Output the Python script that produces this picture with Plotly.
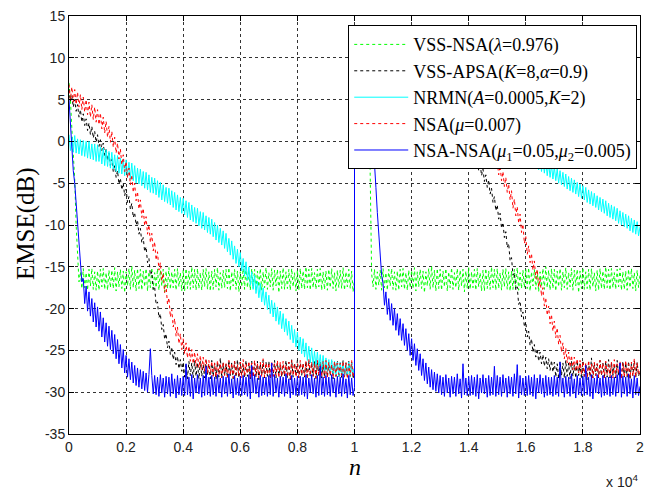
import plotly.graph_objects as go

# sample index axis: first half (0..10000) and second half (10000..20000), step 50
n_first = list(range(0, 10001, 50))
n_second = list(range(10000, 20001, 50))

x_tick_vals = [0, 2000, 4000, 6000, 8000, 10000, 12000, 14000, 16000, 18000, 20000]
x_tick_text = ["0", "0.2", "0.4", "0.6", "0.8", "1", "1.2", "1.4", "1.6", "1.8", "2"]
y_tick_vals = [15, 10, 5, 0, -5, -10, -15, -20, -25, -30, -35]
y_tick_text = ["15", "10", "5", "0", "-5", "-10", "-15", "-20", "-25", "-30", "-35"]

# ---------------- VSS-NSA (green) ----------------
green_a = [
    7.0, 5.0, 1.5, -1.5, -4.5, -10.0, -14.5, -16.8, -15.6, -17.6,
    -15.2, -17.5, -15.7, -17.8, -15.3, -17.3, -15.2, -17.7, -15.6, -17.8,
    -15.5, -17.8, -15.3, -17.4, -15.2, -17.7, -15.7, -17.8, -15.4, -17.5,
    -15.4, -17.6, -15.1, -17.9, -15.6, -17.4, -15.3, -17.6, -15.5, -18.1,
    -15.6, -17.3, -15.2, -17.7, -14.9, -17.5, -15.4, -17.9, -15.2, -17.6,
    -15.3, -17.8, -15.5, -17.4, -15.2, -17.9, -15.6, -17.5, -15.1, -17.7,
    -15.7, -17.5, -15.2, -17.8, -15.4, -17.3, -15.3, -18.0, -15.5, -17.6,
    -15.1, -17.7, -15.6, -17.5, -15.3, -17.8, -15.2, -17.4, -15.7, -17.9,
    -15.4, -17.9, -15.2, -17.6, -15.5, -17.7, -15.0, -17.5, -15.3, -17.8,
    -15.2, -17.6, -15.7, -17.8, -15.3, -17.4, -15.2, -17.7, -15.6, -17.9,
    -15.5, -17.7, -15.3, -17.4, -15.1, -17.8, -15.7, -17.6, -15.4, -17.5,
    -15.3, -17.6, -15.1, -17.9, -15.6, -17.3, -15.3, -17.7, -15.5, -18.0,
    -15.6, -17.4, -15.2, -17.7, -15.0, -17.5, -15.4, -17.8, -15.2, -17.6,
    -15.3, -17.9, -15.5, -17.4, -15.2, -17.8, -15.6, -17.5, -15.1, -17.7,
    -15.7, -17.4, -15.2, -17.8, -15.4, -17.3, -15.3, -18.1, -15.5, -17.6,
    -15.1, -17.7, -15.6, -17.6, -15.3, -17.8, -15.2, -17.4, -15.7, -17.9,
    -15.4, -17.8, -15.2, -17.6, -15.5, -17.7, -15.0, -17.5, -15.3, -17.8,
    -15.2, -17.5, -15.7, -17.7, -15.3, -17.4, -15.2, -17.8, -15.6, -17.7,
    -15.5, -17.8, -15.3, -17.5, -15.2, -17.6, -15.7, -17.9, -15.4, -17.5,
    -15.4, -17.6, -15.1, -17.8, -15.6, -17.4, -15.3, -17.6, -15.5, -18.0,
    -16.4]
green_b = [
    9.0, 8.8, 8.5, 8.2, 8.0, 7.8, 7.5, 7.2, 7.0, 6.5,
    6.0, -4.0, -15.8, -17.4, -15.3, -17.7, -15.6, -17.2, -15.4, -17.8,
    -15.2, -17.5, -15.7, -17.8, -15.3, -17.3, -15.2, -17.7, -15.6, -17.8,
    -15.5, -17.8, -15.3, -17.4, -15.2, -17.7, -15.7, -17.8, -15.4, -17.5,
    -15.4, -17.6, -15.1, -17.9, -15.6, -17.4, -15.3, -17.6, -15.5, -18.1,
    -15.6, -17.3, -15.2, -17.7, -14.9, -17.5, -15.4, -17.9, -15.2, -17.6,
    -15.3, -17.8, -15.5, -17.4, -15.2, -17.9, -15.6, -17.5, -15.1, -17.7,
    -15.7, -17.5, -15.2, -17.8, -15.4, -17.3, -15.3, -18.0, -15.5, -17.6,
    -15.1, -17.7, -15.6, -17.5, -15.3, -17.8, -15.2, -17.4, -15.7, -17.9,
    -15.4, -17.9, -15.2, -17.6, -15.5, -17.7, -15.0, -17.5, -15.3, -17.8,
    -15.2, -17.6, -15.7, -17.8, -15.3, -17.4, -15.2, -17.7, -15.6, -17.9,
    -15.5, -17.7, -15.3, -17.4, -15.1, -17.8, -15.7, -17.6, -15.4, -17.5,
    -15.3, -17.6, -15.1, -17.9, -15.6, -17.3, -15.3, -17.7, -15.5, -18.0,
    -15.6, -17.4, -15.2, -17.7, -15.0, -17.5, -15.4, -17.8, -15.2, -17.6,
    -15.3, -17.9, -15.5, -17.4, -15.2, -17.8, -15.6, -17.5, -15.1, -17.7,
    -15.7, -17.4, -15.2, -17.8, -15.4, -17.3, -15.3, -18.1, -15.5, -17.6,
    -15.1, -17.7, -15.6, -17.6, -15.3, -17.8, -15.2, -17.4, -15.7, -17.9,
    -15.4, -17.8, -15.2, -17.6, -15.5, -17.7, -15.0, -17.5, -15.3, -17.8,
    -15.2, -17.5, -15.7, -17.7, -15.3, -17.4, -15.2, -17.8, -15.6, -17.7,
    -15.5, -17.8, -15.3, -17.5, -15.2, -17.6, -15.7, -17.9, -15.4, -17.5,
    -16.0]

# ---------------- VSS-APSA (black) ----------------
black_a = [
    6.2, 4.8, 5.5, 4.1, 5.0, 3.6, 4.4, 2.9, 3.8, 2.3,
    3.3, 1.9, 2.7, 1.3, 2.2, 0.8, 1.8, 0.4, 1.2, -0.1,
    0.8, -0.6, 0.2, -1.1, -0.2, -1.7, -0.8, -2.3, -1.4, -2.9,
    -2.1, -3.6, -2.9, -4.3, -3.5, -5.1, -4.4, -5.8, -5.0, -6.5,
    -5.7, -7.3, -6.6, -8.1, -7.4, -9.1, -8.5, -10.0, -9.4, -11.1,
    -10.4, -12.1, -11.5, -13.2, -12.6, -14.5, -14.0, -16.0, -15.6, -17.7,
    -17.4, -19.5, -19.2, -21.1, -20.6, -22.5, -21.9, -23.7, -23.0, -24.7,
    -23.9, -25.5, -24.6, -26.1, -25.2, -26.7, -25.7, -27.2, -26.1, -27.5,
    -26.4, -28.2, -26.6, -28.4, -26.3, -28.0, -26.5, -28.3, -26.2, -28.1,
    -26.5, -28.4, -26.3, -28.1, -26.7, -28.3, -26.2, -28.0, -26.6, -28.4,
    -26.2, -28.1, -26.5, -28.5, -26.4, -28.2, -25.9, -28.3, -26.5, -28.0,
    -26.6, -28.3, -26.2, -28.0, -26.5, -28.4, -26.3, -28.2, -26.1, -28.3,
    -26.4, -28.0, -26.7, -28.3, -26.2, -28.1, -26.5, -28.4, -26.3, -28.2,
    -26.5, -28.2, -26.3, -28.5, -26.6, -28.0, -26.2, -28.3, -26.4, -28.1,
    -26.3, -28.4, -26.6, -28.1, -26.2, -28.3, -26.5, -28.0, -26.7, -28.2,
    -26.6, -28.1, -26.2, -28.3, -26.4, -28.5, -26.1, -28.2, -26.5, -28.0,
    -26.2, -28.3, -26.5, -28.0, -26.6, -28.2, -26.3, -28.4, -26.2, -28.1,
    -26.5, -28.1, -26.3, -28.4, -26.5, -28.0, -26.4, -28.3, -26.6, -28.2,
    -26.4, -28.2, -26.6, -28.0, -26.3, -28.4, -26.5, -28.1, -26.2, -28.3,
    -26.6, -28.3, -26.2, -28.1, -26.5, -28.2, -26.3, -28.0, -26.4, -28.4,
    -27.2]
black_b = [
    11.0, 10.6, 10.9, 10.3, 10.6, 10.0, 10.3, 9.7, 10.0, 9.4,
    9.7, 9.1, 9.4, 8.8, 9.1, 8.5, 8.8, 8.2, 8.5, 7.9,
    8.2, 7.6, 7.9, 7.3, 7.6, 7.0, 7.3, 6.7, 7.0, 6.4,
    6.7, 6.1, 6.4, 5.8, 6.1, 5.5, 5.8, 5.2, 5.5, 4.9,
    5.2, 4.6, 4.9, 4.3, 4.6, 4.0, 4.3, 3.7, 4.0, 3.4,
    3.7, 3.1, 3.4, 2.8, 3.1, 2.5, 2.8, 2.2, 2.5, 1.9,
    2.2, 1.6, 1.9, 1.3, 1.6, 1.0, 1.3, 0.7, 1.0, 0.4,
    0.7, 0.1, 0.4, -0.2, 0.1, -0.5, -0.2, -0.8, -0.5, -1.1,
    -0.2, -1.7, -0.8, -2.3, -1.4, -2.9, -2.0, -3.5, -2.6, -4.1,
    -3.3, -4.8, -4.0, -5.5, -4.6, -6.3, -5.6, -7.3, -6.6, -8.3,
    -7.6, -9.3, -8.6, -10.4, -9.7, -11.5, -10.8, -12.7, -12.2, -14.3,
    -13.9, -16.0, -15.7, -17.8, -17.4, -19.5, -19.1, -21.0, -20.4, -22.2,
    -21.6, -23.4, -22.7, -24.4, -23.6, -25.2, -24.3, -25.8, -24.8, -26.3,
    -25.2, -26.6, -25.5, -26.9, -25.8, -27.2, -26.0, -27.4, -26.2, -27.6,
    -26.4, -28.2, -26.6, -28.4, -26.3, -28.0, -26.5, -28.3, -26.2, -28.1,
    -26.5, -28.4, -26.3, -28.1, -26.7, -28.3, -26.2, -28.0, -26.6, -28.4,
    -26.2, -28.1, -26.5, -28.5, -26.4, -28.2, -25.9, -28.3, -26.5, -28.0,
    -26.6, -28.3, -26.2, -28.0, -26.5, -28.4, -26.3, -28.2, -26.1, -28.3,
    -26.4, -28.0, -26.7, -28.3, -26.2, -28.1, -26.5, -28.4, -26.3, -28.2,
    -26.5, -28.2, -26.3, -28.5, -26.6, -28.0, -26.2, -28.3, -26.4, -28.1,
    -27.4]

# ---------------- NRMN (cyan) ----------------
cyan_a = [
    0.8, -1.1, 0.5, -1.3, 0.7, -1.4, 0.3, -1.5, 0.2, -1.7,
    0.1, -1.8, 0.0, -2.0, 0.0, -2.1, -0.3, -2.2, -0.3, -2.4,
    -0.4, -2.4, -0.7, -2.7, -0.8, -2.9, -1.0, -3.0, -1.2, -3.2,
    -1.3, -3.3, -1.6, -3.6, -1.7, -3.8, -2.0, -3.9, -2.1, -4.1,
    -2.2, -4.2, -2.5, -4.5, -2.6, -4.7, -2.9, -5.0, -3.2, -5.1,
    -3.3, -5.3, -3.6, -5.6, -3.7, -5.8, -4.0, -6.1, -4.3, -6.2,
    -4.4, -6.4, -4.7, -6.7, -4.9, -7.0, -5.2, -7.2, -5.5, -7.4,
    -5.6, -7.6, -5.9, -7.9, -6.1, -8.2, -6.4, -8.4, -6.7, -8.6,
    -6.8, -8.8, -7.1, -9.1, -7.3, -9.4, -7.6, -9.6, -7.9, -9.8,
    -8.0, -10.1, -8.4, -10.4, -8.5, -10.6, -8.9, -10.9, -9.1, -11.1,
    -9.3, -11.4, -9.7, -11.8, -10.0, -12.1, -10.4, -12.4, -10.7, -12.8,
    -11.0, -13.2, -11.6, -13.6, -11.9, -14.1, -12.5, -14.6, -12.9, -15.0,
    -13.3, -15.5, -14.0, -16.1, -14.4, -16.6, -15.0, -17.2, -15.6, -17.7,
    -16.0, -18.2, -16.7, -18.7, -17.0, -19.2, -17.5, -19.6, -18.0, -20.1,
    -18.4, -20.6, -19.0, -21.0, -19.3, -21.5, -19.8, -21.9, -20.3, -22.4,
    -20.6, -22.8, -21.2, -23.2, -21.5, -23.7, -22.0, -24.1, -22.5, -24.6,
    -22.8, -25.0, -23.4, -25.4, -23.6, -25.8, -24.1, -26.2, -24.5, -26.5,
    -24.7, -26.8, -25.1, -27.0, -25.2, -27.2, -25.5, -27.4, -25.6, -27.6,
    -25.9, -27.6, -26.1, -27.8, -26.1, -27.9, -26.3, -28.0, -26.4, -28.1,
    -26.4, -28.0, -26.5, -28.1, -26.6, -28.0, -26.4, -28.2, -26.5, -28.0,
    -27.1]
cyan_b = [
    12.8, 11.1, 12.6, 10.9, 12.4, 10.6, 12.1, 10.4, 11.9, 10.2,
    11.7, 10.0, 11.5, 9.7, 11.2, 9.5, 11.0, 9.3, 10.8, 9.1,
    10.6, 8.8, 10.3, 8.6, 10.1, 8.4, 9.9, 8.2, 9.6, 7.9,
    9.4, 7.7, 9.2, 7.5, 9.0, 7.2, 8.7, 7.0, 8.5, 6.8,
    8.3, 6.6, 8.1, 6.3, 7.8, 6.1, 7.6, 5.9, 7.4, 5.7,
    7.2, 5.4, 6.9, 5.2, 6.7, 5.0, 6.5, 4.8, 6.2, 4.5,
    6.0, 4.3, 5.8, 4.1, 5.6, 3.8, 5.3, 3.6, 5.1, 3.4,
    4.9, 3.2, 4.7, 2.9, 4.4, 2.7, 4.2, 2.5, 4.0, 2.3,
    3.8, 2.1, 3.5, 1.8, 3.3, 1.6, 3.1, 1.4, 2.9, 1.1,
    2.6, 0.9, 2.4, 0.7, 2.2, 0.5, 2.0, 0.2, 1.7, 0.0,
    1.5, -0.2, 1.3, -0.4, 1.0, -0.7, 0.8, -0.9, 0.6, -1.1,
    0.4, -1.3, 0.1, -1.6, -0.1, -1.8, -0.3, -2.0, -0.5, -2.3,
    -0.8, -2.5, -1.0, -2.7, -1.2, -2.9, -1.5, -3.2, -1.7, -3.4,
    -1.9, -3.6, -2.1, -3.8, -2.3, -4.1, -2.6, -4.3, -2.8, -4.5,
    -3.0, -4.7, -3.3, -5.0, -3.5, -5.2, -3.7, -5.4, -3.9, -5.7,
    -4.2, -5.9, -4.4, -6.1, -4.6, -6.3, -4.9, -6.6, -5.1, -6.8,
    -5.3, -7.0, -5.5, -7.3, -5.8, -7.5, -6.0, -7.7, -6.2, -7.9,
    -6.5, -8.2, -6.7, -8.4, -6.9, -8.6, -7.1, -8.9, -7.4, -9.1,
    -7.6, -9.3, -7.8, -9.5, -8.0, -9.8, -8.3, -10.0, -8.5, -10.2,
    -8.7, -10.4, -8.9, -10.7, -9.2, -10.9, -9.4, -11.1, -9.6, -11.3,
    -10.2]

# ---------------- NSA (red) ----------------
red_a = [
    6.8, 5.0, 6.5, 4.7, 6.2, 4.4, 5.9, 4.1, 5.6, 3.8,
    5.3, 3.5, 5.0, 3.2, 4.7, 2.9, 4.4, 2.6, 4.1, 2.3,
    3.8, 2.0, 3.4, 1.5, 2.9, 1.0, 2.4, 0.5, 1.8, -0.1,
    1.2, -0.7, 0.5, -1.4, -0.2, -2.1, -0.9, -2.8, -1.6, -3.6,
    -2.4, -4.4, -3.2, -5.2, -4.0, -6.1, -5.0, -7.1, -6.0, -8.1,
    -7.0, -9.1, -8.0, -10.1, -9.0, -11.1, -10.0, -12.1, -11.0, -13.1,
    -12.0, -14.2, -13.2, -15.4, -14.5, -16.7, -15.8, -18.1, -17.2, -19.5,
    -18.7, -21.0, -20.1, -22.2, -21.2, -23.3, -22.2, -24.2, -23.0, -24.9,
    -23.6, -25.4, -24.1, -25.9, -24.5, -26.3, -24.9, -26.6, -25.2, -26.9,
    -25.4, -27.1, -25.6, -27.3, -25.8, -27.5, -26.0, -27.7, -26.2, -27.9,
    -26.3, -28.1, -26.5, -28.2, -26.2, -27.9, -26.6, -28.3, -26.4, -28.0,
    -26.6, -28.2, -26.2, -28.0, -26.5, -28.3, -26.3, -27.9, -26.7, -28.1,
    -26.4, -28.3, -26.1, -28.1, -26.6, -27.8, -26.3, -28.4, -26.5, -28.2,
    -26.2, -28.0, -26.6, -28.3, -26.4, -28.1, -26.0, -28.2, -26.5, -27.9,
    -26.5, -28.2, -26.3, -28.1, -26.6, -28.0, -26.2, -28.3, -26.4, -28.1,
    -26.3, -28.0, -26.7, -28.2, -26.4, -28.4, -26.2, -28.0, -26.6, -28.2,
    -26.6, -28.3, -26.2, -27.9, -26.5, -28.1, -26.3, -28.2, -26.1, -28.0,
    -26.4, -28.1, -26.5, -28.3, -26.2, -28.0, -26.6, -28.2, -26.3, -28.3,
    -26.2, -28.2, -26.4, -28.0, -26.7, -28.3, -26.3, -28.1, -26.5, -27.9,
    -26.5, -28.0, -26.3, -28.2, -26.4, -28.4, -26.6, -28.1, -26.2, -28.2,
    -27.0]
red_b = [
    12.0, 11.5, 11.8, 11.2, 11.4, 10.9, 11.1, 10.6, 10.8, 10.3,
    10.5, 10.0, 10.2, 9.7, 9.9, 9.4, 9.6, 9.1, 9.3, 8.8,
    9.0, 8.5, 8.7, 8.2, 8.4, 7.9, 8.1, 7.6, 7.8, 7.3,
    7.5, 7.0, 7.2, 6.7, 6.9, 6.4, 6.6, 6.1, 6.3, 5.8,
    6.0, 5.5, 5.7, 5.2, 5.4, 4.9, 5.1, 4.6, 4.8, 4.3,
    4.5, 4.0, 4.2, 3.7, 3.9, 3.4, 3.6, 3.1, 3.3, 2.8,
    3.0, 2.5, 2.7, 2.2, 2.4, 1.9, 2.1, 1.6, 1.8, 1.3,
    1.5, 1.0, 1.2, 0.7, 0.9, 0.4, 0.6, 0.1, 0.3, -0.2,
    0.0, -0.5, -0.3, -0.8, -0.6, -1.1, -0.9, -1.4, -1.2, -1.7,
    -1.5, -2.0, -1.8, -2.3, -2.1, -2.6, -2.4, -2.9, -2.5, -3.0,
    -2.4, -4.0, -2.9, -4.7, -3.6, -5.4, -4.3, -6.1, -5.1, -7.0,
    -5.9, -8.0, -6.9, -8.9, -7.8, -9.8, -8.7, -10.9, -9.9, -12.2,
    -11.4, -13.5, -12.5, -14.5, -13.4, -15.4, -14.3, -16.4, -15.3, -17.4,
    -16.4, -18.5, -17.5, -19.7, -18.7, -20.8, -19.7, -21.8, -20.7, -22.7,
    -21.5, -23.5, -22.3, -24.3, -23.2, -25.2, -24.1, -26.0, -24.7, -26.5,
    -25.2, -27.0, -25.6, -27.3, -25.8, -27.5, -26.0, -27.7, -26.2, -27.9,
    -26.3, -28.1, -26.5, -28.2, -26.2, -27.9, -26.6, -28.3, -26.4, -28.0,
    -26.6, -28.2, -26.2, -28.0, -26.5, -28.3, -26.3, -27.9, -26.7, -28.1,
    -26.4, -28.3, -26.1, -28.1, -26.6, -27.8, -26.3, -28.4, -26.5, -28.2,
    -26.2, -28.0, -26.6, -28.3, -26.4, -28.1, -26.0, -28.2, -26.5, -27.9,
    -27.3]

# ---------------- NSA-NSA (blue) ----------------
blue_a = [
    5.0, 2.0, -0.5, -3.5, -5.0, -7.5, -9.0, -12.5, -14.0, -16.8,
    -16.4, -19.4, -17.3, -20.3, -18.0, -20.9, -18.8, -21.6, -19.3, -22.2,
    -19.8, -22.7, -20.4, -23.4, -21.1, -24.0, -21.7, -24.5, -22.1, -24.9,
    -22.6, -25.4, -23.1, -26.0, -23.7, -26.6, -24.3, -27.1, -24.9, -27.7,
    -25.6, -28.2, -26.0, -28.5, -26.4, -28.9, -26.8, -29.2, -27.1, -29.4,
    -27.3, -29.6, -27.5, -29.8, -27.7, -30.0, -27.9, -24.8, -28.0, -30.2,
    -28.0, -30.3, -28.2, -30.5, -27.9, -30.1, -28.3, -30.6, -28.1, -30.2,
    -28.2, -30.5, -27.8, -30.2, -28.4, -30.7, -28.0, -30.3, -28.3, -30.4,
    -28.1, -30.4, -26.6, -30.3, -28.2, -30.5, -27.9, -30.8, -28.3, -30.1,
    -27.9, -30.2, -28.3, -30.6, -28.0, -30.4, -26.9, -30.3, -28.2, -30.5,
    -28.0, -30.3, -28.2, -30.5, -27.9, -30.1, -28.3, -30.6, -28.1, -30.2,
    -28.2, -30.5, -27.8, -30.2, -28.4, -30.7, -28.0, -30.3, -28.3, -30.4,
    -28.1, -30.4, -28.0, -30.3, -28.2, -30.5, -27.9, -30.8, -26.8, -30.1,
    -27.9, -30.2, -28.3, -30.6, -28.0, -30.4, -28.2, -30.3, -28.2, -30.5,
    -28.0, -30.3, -26.5, -30.5, -27.9, -30.1, -28.3, -30.6, -28.1, -30.2,
    -28.2, -30.5, -27.8, -30.2, -28.4, -30.7, -28.0, -30.3, -28.3, -30.4,
    -28.1, -30.4, -28.1, -30.3, -28.2, -30.5, -27.9, -30.8, -28.3, -30.1,
    -27.9, -30.2, -28.3, -30.6, -28.0, -30.4, -26.9, -30.3, -28.2, -30.5,
    -28.0, -30.3, -28.2, -30.5, -27.9, -30.1, -28.3, -30.6, -28.1, -30.2,
    -28.2, -30.5, -27.8, -30.2, -28.4, -30.7, -28.0, -30.3, -28.3, -30.4,
    -29.4]
blue_b = [
    10.0, 9.8, 9.5, 9.3, 9.0, 8.8, 8.5, 8.3, 8.0, 7.5,
    6.5, 5.0, 3.0, 0.5, -3.2, -5.5, -8.5, -11.5, -14.0, -16.0,
    -17.0, -19.6, -18.0, -20.7, -18.8, -21.4, -19.4, -22.0, -20.0, -22.6,
    -20.6, -23.2, -21.2, -23.8, -21.8, -24.4, -22.4, -25.0, -23.0, -25.6,
    -23.6, -26.2, -24.2, -26.8, -24.8, -27.4, -25.4, -28.0, -26.0, -28.6,
    -26.5, -29.0, -27.0, -29.4, -27.3, -29.7, -27.6, -29.9, -27.8, -30.1,
    -28.0, -30.3, -28.2, -30.5, -27.9, -30.1, -28.3, -30.6, -28.1, -30.2,
    -28.2, -30.5, -27.8, -30.2, -28.4, -30.7, -26.6, -30.3, -28.3, -30.4,
    -28.1, -30.4, -28.0, -30.3, -28.2, -30.5, -27.9, -30.8, -28.3, -30.1,
    -27.9, -30.2, -28.3, -30.6, -28.0, -30.4, -28.2, -30.3, -26.9, -30.5,
    -28.0, -30.3, -28.2, -30.5, -27.9, -30.1, -28.3, -30.6, -28.1, -30.2,
    -28.2, -30.5, -27.8, -30.2, -26.7, -30.7, -28.0, -30.3, -28.3, -30.4,
    -28.1, -30.4, -28.0, -30.3, -28.2, -30.5, -27.9, -30.8, -28.3, -30.1,
    -27.9, -30.2, -28.3, -30.6, -28.0, -30.4, -28.2, -30.3, -28.2, -30.5,
    -28.0, -30.3, -28.2, -30.5, -26.4, -30.1, -28.3, -30.6, -28.1, -30.2,
    -28.2, -30.5, -27.8, -30.2, -28.4, -30.7, -28.0, -30.3, -28.3, -30.4,
    -28.1, -30.4, -26.8, -30.3, -28.2, -30.5, -27.9, -30.8, -28.3, -30.1,
    -27.9, -30.2, -28.3, -30.6, -28.0, -30.4, -28.2, -30.3, -28.2, -30.5,
    -28.0, -30.3, -28.2, -30.5, -27.9, -30.1, -26.5, -30.6, -28.1, -30.2,
    -28.2, -30.5, -27.8, -30.2, -28.4, -30.7, -28.0, -30.3, -28.3, -30.4,
    -29.3]

series = [
    ("VSS-NSA(<i>λ</i>=0.976)", green_a, green_b, "#00ff00", "dot"),
    ("VSS-APSA(<i>K</i>=8,<i>α</i>=0.9)", black_a, black_b, "#000000", "dot"),
    ("NRMN(<i>A</i>=0.0005,<i>K</i>=2)", cyan_a, cyan_b, "#00ffff", "solid"),
    ("NSA(<i>μ</i>=0.007)", red_a, red_b, "#ff0000", "dot"),
    ("NSA-NSA(<i>μ</i><sub>1</sub>=0.05,<i>μ</i><sub>2</sub>=0.005)", blue_a, blue_b, "#0000ff", "solid"),
]

SERIF = "Liberation Serif, Times New Roman, serif"
SANS = "Liberation Sans, Arial, sans-serif"

fig = go.Figure()
x_all = n_first + n_second
for name, ya, yb, color, dash in series:
    fig.add_trace(go.Scatter(
        x=x_all, y=ya + yb, mode="lines", name=name,
        line=dict(color=color, width=1, dash=dash),
    ))

axis_common = dict(
    showline=True, linecolor="black", linewidth=1, mirror="ticks",
    ticks="inside", ticklen=5, tickcolor="black", tickwidth=1,
    showgrid=True, gridcolor="#333333", gridwidth=1, griddash="3px,3px",
    zeroline=False, tickfont=dict(family=SANS, size=14, color="#222"),
)
fig.update_xaxes(range=[0, 20000], tickvals=x_tick_vals, ticktext=x_tick_text, **axis_common)
fig.update_yaxes(range=[-35, 15], tickvals=y_tick_vals, ticktext=y_tick_text, **axis_common)

fig.update_layout(
    width=650, height=492,
    margin=dict(l=69, r=6, t=16, b=58),
    paper_bgcolor="white", plot_bgcolor="white",
    showlegend=True,
    legend=dict(
        x=0.489, y=0.978, xanchor="left", yanchor="top",
        bgcolor="white", bordercolor="black", borderwidth=1,
        font=dict(family=SERIF, size=18, color="black"),
        tracegroupgap=0, itemwidth=54,
    ),
    annotations=[
        dict(text="EMSE(dB)", xref="paper", yref="paper", x=-0.075, y=0.503,
             xanchor="center", yanchor="middle", textangle=-90, showarrow=False,
             font=dict(family=SERIF, size=25, color="black")),
        dict(text="<i>n</i>", xref="paper", yref="paper", x=0.5, y=-0.08,
             xanchor="center", yanchor="middle", showarrow=False,
             font=dict(family=SERIF, size=24, color="black")),
        dict(text="x 10<sup>4</sup>", xref="paper", yref="paper", x=1.0, y=-0.113,
             xanchor="right", yanchor="middle", showarrow=False,
             font=dict(family=SANS, size=14, color="#222")),
    ],
)

fig.write_html("out.html", config={"displayModeBar": False},
               post_script="document.body.style.margin='0px';document.body.style.padding='0px';")
